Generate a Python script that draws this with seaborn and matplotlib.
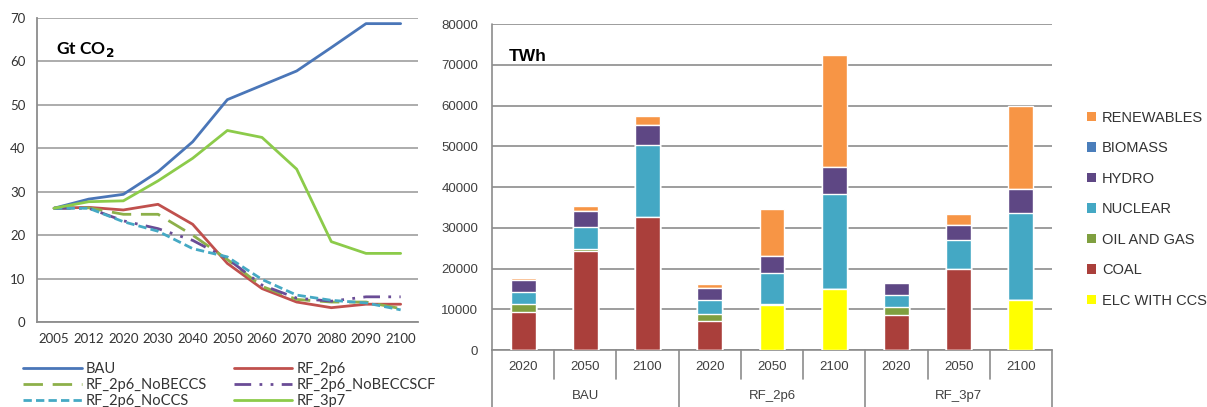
import numpy as np
import pandas as pd
import matplotlib
matplotlib.use("Agg")
import matplotlib.pyplot as plt
import seaborn as sns
from matplotlib.patches import Patch

# ---------------- data: left chart (Gt CO2) ----------------
years = ["2005", "2012", "2020", "2030", "2040", "2050", "2060", "2070", "2080", "2090", "2100"]
bau = [26.2, 28.3, 29.4, 34.6, 41.5, 51.2, 54.5, 57.8, 63.2, 68.7, 68.7]
rf_2p6 = [26.2, 26.4, 25.8, 27.1, 22.5, 13.5, 7.7, 4.6, 3.3, 4.1, 4.1]
rf_2p6_nobeccs = [26.2, 26.3, 24.8, 24.8, 20.0, 14.4, 8.2, 5.2, 4.6, 4.6, 3.1]
rf_2p6_nobeccscf = [26.2, 26.2, 23.3, 21.5, 18.8, 14.6, 8.5, 5.5, 4.8, 5.8, 5.8]
rf_2p6_noccs = [26.2, 26.2, 23.1, 20.9, 16.9, 15.0, 9.8, 6.2, 5.0, 4.4, 2.8]
rf_3p7 = [26.2, 27.7, 27.9, 32.5, 37.7, 44.1, 42.5, 35.2, 18.5, 15.8, 15.8]

# ---------------- data: right chart (TWh) ----------------
scenarios = ["BAU", "RF_2p6", "RF_3p7"]
bar_years = ["2020", "2050", "2100"]
elc_ccs = [0, 0, 0, 0, 11000, 15000, 0, 0, 12300]
coal = [9400, 24400, 32600, 7100, 0, 0, 8600, 19800, 0]
oil_gas = [1900, 500, 0, 1700, 400, 0, 1900, 200, 0]
nuclear = [2850, 5400, 17700, 3450, 7400, 23300, 3000, 6950, 21300]
hydro = [3050, 3750, 4900, 2850, 4250, 6550, 2850, 3700, 5950]
biomass = [0, 0, 0, 0, 0, 0, 0, 0, 0]
renewables = [400, 1300, 2300, 1000, 11600, 27550, 400, 2700, 20350]

layer_names = ["ELC WITH CCS", "COAL", "OIL AND GAS", "NUCLEAR", "HYDRO", "BIOMASS", "RENEWABLES"]
layer_vals = [elc_ccs, coal, oil_gas, nuclear, hydro, biomass, renewables]
layer_cols = ["#FFFF00", "#AA3F3B", "#7F9F3F", "#44A8C4", "#5E4784", "#4A7EBB", "#F79545"]

fig = plt.figure(figsize=(12.07, 4.07), dpi=100)
sns.set_style("white")
plt.rcParams["font.family"] = ["Lato", "DejaVu Sans"]

# ================= LEFT =================
axL = fig.add_axes([0.0304, 0.2088, 0.3159, 0.747])
grid_c = "#A6A6A6"
series = [
    ("BAU", bau, "#4A76B8", None),
    ("RF_2p6", rf_2p6, "#C0504D", None),
    ("RF_2p6_NoBECCS", rf_2p6_nobeccs, "#8DB04A", (7, 3.5)),
    ("RF_2p6_NoBECCSCF", rf_2p6_nobeccscf, "#6A4C96", (6, 3, 1, 3, 1, 3)),
    ("RF_2p6_NoCCS", rf_2p6_noccs, "#45A9C4", (3, 1.5)),
    ("RF_3p7", rf_3p7, "#8CCB4A", None),
]
x_idx = np.arange(len(years))
for name, vals, col, dash in series:
    kw = dict(color=col, linewidth=2.0, label=name)
    if dash is not None:
        kw["dashes"] = dash
    sns.lineplot(x=x_idx, y=vals, ax=axL, **kw)

axL.set_xlim(-0.5, len(years) - 0.5)
axL.set_ylim(0, 70)
axL.set_yticks(np.arange(0, 71, 10))
axL.set_xticks(x_idx)
axL.set_xticklabels(years)
axL.set_xticks(np.arange(-0.5, len(years), 1.0), minor=True)
axL.tick_params(axis="x", which="major", length=0, pad=8, labelsize=9.5, colors="#333333")
axL.tick_params(axis="x", which="minor", length=5, width=1.2, color="#8C8C8C", direction="out")
axL.tick_params(axis="y", length=4, width=1.2, color="#8C8C8C", labelsize=9.5, colors="#333333", pad=4)
axL.yaxis.grid(True, color=grid_c, linewidth=1.3)
axL.set_axisbelow(True)
for s in ["top", "right"]:
    axL.spines[s].set_visible(False)
for s in ["left", "bottom"]:
    axL.spines[s].set_color("#8C8C8C")
    axL.spines[s].set_linewidth(1.3)
axL.set_xlabel("")
axL.set_ylabel("")
axL.text(0.05, 0.895, r"Gt CO$_\mathbf{2}$", transform=axL.transAxes, fontsize=12.5,
         fontweight="bold", ha="left", va="center", color="black")
h, l = axL.get_legend_handles_labels()
order = [0, 2, 4, 1, 3, 5]
axL.legend([h[i] for i in order], [l[i] for i in order], loc="upper left",
           bbox_to_anchor=(-0.035, -0.132), ncol=2, frameon=False,
           fontsize=10.5, handlelength=4.0, columnspacing=1.8, labelspacing=0.12,
           handletextpad=0.3, borderaxespad=0, borderpad=0, labelcolor="#333333")

# ================= RIGHT =================
plt.rcParams["font.family"] = ["Liberation Sans", "DejaVu Sans"]
axR = fig.add_axes([0.4076, 0.140, 0.464, 0.801])
cats = [f"{s}|{y}" for s in scenarios for y in bar_years]
cum = np.cumsum(np.array(layer_vals, dtype=float), axis=0)
for i in range(len(layer_names) - 1, -1, -1):
    df = pd.DataFrame({"cat": cats, "val": cum[i]})
    sns.barplot(data=df, x="cat", y="val", order=cats, color=layer_cols[i],
                saturation=1, width=0.4, ax=axR, zorder=3)

axR.set_ylim(0, 80000)
axR.set_xlim(-0.5, len(cats) - 0.5)
axR.set_yticks(np.arange(0, 80001, 10000))
axR.yaxis.grid(True, color="#8C8C8C", linewidth=1.2)
axR.set_axisbelow(True)
axR.set_xlabel("")
axR.set_ylabel("")
axR.set_xticks(range(len(cats)))
axR.set_xticklabels([c.split("|")[1] for c in cats])
axR.tick_params(axis="x", length=0, pad=8, labelsize=9.5, colors="#404040")
axR.tick_params(axis="y", length=0, labelsize=9.5, colors="#404040", pad=10)
for s in ["top", "right", "left"]:
    axR.spines[s].set_visible(False)
axR.spines["bottom"].set_color("#8C8C8C")
axR.spines["bottom"].set_linewidth(1.2)

trans = axR.get_xaxis_transform()
for b in np.arange(-0.5, len(cats), 1.0):
    k = int(round(b + 0.5))
    full = (k % 3 == 0)
    y_end = -0.175 if full else -0.09
    axR.plot([b, b], [0, y_end], transform=trans, color="#8C8C8C", linewidth=1.2, clip_on=False)
axR.plot([-0.5, -0.5], [0, 1], transform=trans, color="#8C8C8C", linewidth=1.2, clip_on=False)
for gi, sc in enumerate(scenarios):
    axR.text(gi * 3 + 1, -0.14, sc, transform=trans, ha="center", va="center",
             fontsize=9.5, color="#404040")
axR.text(0.03, 0.9, "TWh", transform=axR.transAxes, fontsize=12.5, fontweight="bold",
         ha="left", va="center", color="black")

handles = [Patch(facecolor=layer_cols[i], edgecolor="none") for i in range(len(layer_names) - 1, -1, -1)]
labels = [layer_names[i] for i in range(len(layer_names) - 1, -1, -1)]
axR.legend(handles, labels, loc="upper left", bbox_to_anchor=(1.063, 0.734), frameon=False,
           fontsize=10.5, handlelength=0.6, handleheight=0.6, handletextpad=0.4,
           labelspacing=1.13, borderaxespad=0, borderpad=0, labelcolor="#333333")

fig.savefig("out.png", dpi=100)
